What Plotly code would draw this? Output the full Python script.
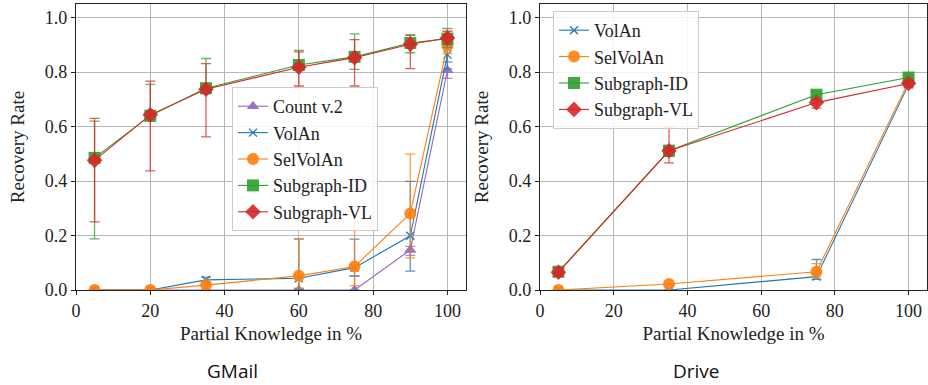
import plotly.graph_objects as go

# ---------------- data ----------------
gm_x = [5, 20, 35, 60, 75, 90, 100]
gm_count = [0.0, 0.0, 0.0, 0.0, 0.0, 0.147, 0.807]
gm_count_plus = [0.0, 0.0, 0.0, 0.005, 0.051, 0.013, 0.03]
gm_count_minus = [0.0, 0.0, 0.0, 0.0, 0.0, 0.02, 0.03]
gm_volan = [0.0, 0.0, 0.037, 0.043, 0.082, 0.199, 0.864]
gm_volan_plus = [0.0, 0.0, 0.01, 0.145, 0.105, 0.2, 0.06]
gm_volan_minus = [0.0, 0.0, 0.01, 0.043, 0.03, 0.13, 0.052]
gm_selvolan = [0.0, 0.0, 0.018, 0.052, 0.086, 0.281, 0.898]
gm_selvolan_plus = [0.0, 0.0, 0.01, 0.135, 0.164, 0.218, 0.03]
gm_selvolan_minus = [0.0, 0.0, 0.018, 0.045, 0.07, 0.163, 0.03]
gm_sgid = [0.485, 0.64, 0.741, 0.826, 0.856, 0.907, 0.923]
gm_sgid_plus = [0.135, 0.115, 0.109, 0.054, 0.084, 0.028, 0.037]
gm_sgid_minus = [0.297, 0.02, 0.02, 0.02, 0.046, 0.036, 0.033]
gm_sgvl = [0.476, 0.643, 0.737, 0.818, 0.853, 0.902, 0.925]
gm_sgvl_plus = [0.154, 0.124, 0.094, 0.056, 0.066, 0.035, 0.025]
gm_sgvl_minus = [0.226, 0.206, 0.175, 0.069, 0.104, 0.089, 0.025]

dr_x = [5, 35, 75, 100]
dr_volan = [0.0, 0.0, 0.049, 0.754]
dr_volan_plus = [0.0, 0.0, 0.063, 0.01]
dr_volan_minus = [0.0, 0.0, 0.01, 0.01]
dr_selvolan = [0.0, 0.022, 0.067, 0.765]
dr_selvolan_plus = [0.0, 0.0, 0.03, 0.01]
dr_selvolan_minus = [0.0, 0.0, 0.02, 0.01]
dr_sgid = [0.067, 0.511, 0.717, 0.78]
dr_sgid_plus = [0.01, 0.02, 0.01, 0.01]
dr_sgid_minus = [0.01, 0.02, 0.01, 0.01]
dr_sgvl = [0.065, 0.511, 0.688, 0.758]
dr_sgvl_plus = [0.015, 0.088, 0.012, 0.01]
dr_sgvl_minus = [0.015, 0.044, 0.02, 0.01]

x_ticks = [0, 20, 40, 60, 80, 100]
y_ticks = [0.0, 0.2, 0.4, 0.6, 0.8, 1.0]
panel_titles = ["GMail", "Drive"]

# ---------------- styles ----------------
COL = {
    "Count v.2": (148, 103, 189),
    "VolAn": (31, 119, 180),
    "SelVolAn": (255, 127, 14),
    "Subgraph-ID": (44, 160, 44),
    "Subgraph-VL": (214, 39, 40),
}
SYM = {
    "Count v.2": ("triangle-up", 11),
    "VolAn": ("x-thin", 8),
    "SelVolAn": ("circle", 12),
    "Subgraph-ID": ("square", 12),
    "Subgraph-VL": ("diamond", 12),
}
SERIF = "Liberation Serif"
FS = 18


def rgba(c, a):
    return "rgba(%d,%d,%d,%.2f)" % (c[0], c[1], c[2], a)


def trace(name, x, y, plus, minus, xa, ya, legend):
    c = COL[name]
    sym, size = SYM[name]
    marker = dict(symbol=sym, size=size, color=rgba(c, 0.9))
    if sym == "x-thin":
        marker["line"] = dict(color=rgba(c, 1), width=1.3)
    else:
        marker["line"] = dict(width=0)
    return go.Scatter(
        x=x, y=y, name=name, mode="lines+markers",
        line=dict(color=rgba(c, 1), width=1.1),
        marker=marker,
        error_y=dict(type="data", symmetric=False, array=plus, arrayminus=minus,
                     color=rgba(c, 0.75), thickness=1.3, width=5),
        xaxis=xa, yaxis=ya, legend=legend,
    )


fig = go.Figure()
fig.add_trace(trace("Count v.2", gm_x, gm_count, gm_count_plus, gm_count_minus, "x", "y", "legend"))
fig.add_trace(trace("VolAn", gm_x, gm_volan, gm_volan_plus, gm_volan_minus, "x", "y", "legend"))
fig.add_trace(trace("SelVolAn", gm_x, gm_selvolan, gm_selvolan_plus, gm_selvolan_minus, "x", "y", "legend"))
fig.add_trace(trace("Subgraph-ID", gm_x, gm_sgid, gm_sgid_plus, gm_sgid_minus, "x", "y", "legend"))
fig.add_trace(trace("Subgraph-VL", gm_x, gm_sgvl, gm_sgvl_plus, gm_sgvl_minus, "x", "y", "legend"))

fig.add_trace(trace("VolAn", dr_x, dr_volan, dr_volan_plus, dr_volan_minus, "x2", "y2", "legend2"))
fig.add_trace(trace("SelVolAn", dr_x, dr_selvolan, dr_selvolan_plus, dr_selvolan_minus, "x2", "y2", "legend2"))
fig.add_trace(trace("Subgraph-ID", dr_x, dr_sgid, dr_sgid_plus, dr_sgid_minus, "x2", "y2", "legend2"))
fig.add_trace(trace("Subgraph-VL", dr_x, dr_sgvl, dr_sgvl_plus, dr_sgvl_minus, "x2", "y2", "legend2"))

W, H = 928, 385
ydom = [(H - 290) / H, (H - 4) / H]

axis_common = dict(
    showline=True, mirror=True, linecolor="#222222", linewidth=1.2,
    showgrid=True, gridcolor="#b8b8b8", gridwidth=1,
    zeroline=False, ticks="outside", ticklen=4, tickwidth=1, tickcolor="#222222",
    tickfont=dict(family=SERIF, size=FS, color="#222222"),
    automargin=False,
)

xaxis_common = dict(axis_common, range=[0, 105], tickvals=x_ticks,
                    title=dict(text="Partial Knowledge in %", standoff=6,
                               font=dict(family=SERIF, size=19, color="#222222")))
yaxis_common = dict(axis_common, range=[0, 1.05], tickvals=y_ticks, tickformat=".1f",
                    title=dict(text="Recovery Rate", standoff=15,
                               font=dict(family=SERIF, size=19, color="#222222")))

legend_common = dict(
    font=dict(family=SERIF, size=FS, color="#222222"),
    bgcolor="rgba(255,255,255,0.85)", bordercolor="#cccccc", borderwidth=1,
    xanchor="left", yanchor="top", tracegroupgap=0, itemwidth=30,
)

fig.update_layout(
    width=W, height=H,
    margin=dict(l=0, r=0, t=0, b=0),
    font=dict(family=SERIF),
    paper_bgcolor="white", plot_bgcolor="white",
    xaxis=dict(xaxis_common, domain=[76 / W, 466 / W], anchor="y"),
    yaxis=dict(yaxis_common, domain=ydom, anchor="x"),
    xaxis2=dict(xaxis_common, domain=[540 / W, 927 / W], anchor="y2"),
    yaxis2=dict(yaxis_common, domain=ydom, anchor="x2"),
    legend=dict(legend_common, x=232 / W, y=1 - 87 / H),
    legend2=dict(legend_common, x=553 / W, y=1 - 11 / H),
    showlegend=True,
)

for xc, t in zip([0.25, 0.75], panel_titles):
    fig.add_annotation(text=t, x=xc, y=1 - 371 / H, xref="paper", yref="paper",
                       xanchor="center", yanchor="middle", showarrow=False,
                       font=dict(family="Open Sans", size=19, color="#111111"))

fig.write_html("out.html", config={"displayModeBar": False},
               post_script="document.body.style.margin='0';document.body.style.overflow='hidden';")
